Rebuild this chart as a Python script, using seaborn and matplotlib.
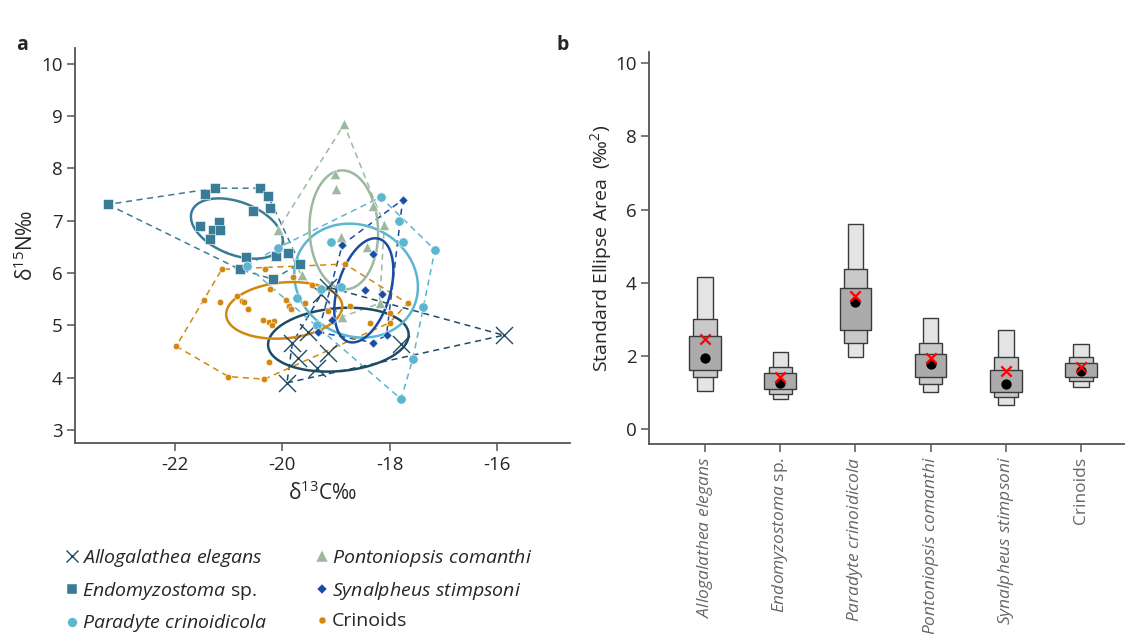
import numpy as np
import pandas as pd
import matplotlib
matplotlib.use("Agg")
import matplotlib.pyplot as plt
import seaborn as sns
from matplotlib.lines import Line2D

# ---------------- data: panel a (isotope values) ----------------
allo_x = [-19.15, -19.27, -19.52, -19.81, -19.71, -19.14, -19.36, -19.91, -17.80, -15.88]
allo_y = [5.73, 5.60, 4.88, 4.66, 4.38, 4.47, 4.18, 3.90, 4.64, 4.81]

endo_x = [-23.24, -21.44, -21.25, -20.41, -20.26, -20.23, -20.54, -21.17, -21.52,
          -21.29, -21.15, -21.34, -20.68, -20.11, -19.90, -19.67, -20.79, -20.17]
endo_y = [7.31, 7.51, 7.62, 7.62, 7.47, 7.24, 7.19, 6.97, 6.89,
          6.83, 6.83, 6.65, 6.31, 6.33, 6.39, 6.18, 6.07, 5.88]

para_x = [-20.08, -20.66, -19.73, -18.17, -17.82, -17.75, -17.16, -19.09, -18.91,
          -19.28, -17.39, -17.57, -17.79, -19.36]
para_y = [6.48, 6.14, 5.52, 7.45, 7.00, 6.59, 6.44, 6.59, 5.74,
          5.69, 5.35, 4.36, 3.59, 5.01]

pont_x = [-18.85, -19.02, -18.99, -18.31, -18.10, -20.08, -18.91, -18.42, -19.64, -18.19, -18.89]
pont_y = [8.84, 7.89, 7.60, 7.28, 6.91, 6.82, 6.68, 6.50, 5.96, 5.42, 5.16]

syn_x = [-17.76, -18.88, -18.32, -18.46, -18.14, -19.08, -18.31, -18.06, -19.33]
syn_y = [7.40, 6.54, 6.36, 5.67, 5.59, 5.10, 4.67, 4.81, 4.87]

crin_x = [-21.12, -20.32, -21.45, -21.15, -20.84, -20.75, -20.63, -20.22, -19.93, -19.88,
          -19.83, -19.57, -20.35, -20.24, -20.16, -20.18, -21.97, -21.00, -20.33, -20.24,
          -19.79, -19.45, -19.15, -18.74, -18.83, -18.36, -18.00, -17.67, -18.00, -20.70]
crin_y = [6.07, 6.07, 5.48, 5.45, 5.56, 5.46, 5.31, 5.69, 5.48, 5.37,
          5.32, 5.42, 5.10, 5.07, 5.09, 5.01, 4.60, 4.02, 3.97, 4.29,
          5.92, 5.77, 5.28, 5.37, 6.17, 5.05, 5.05, 5.42, 5.24, 5.45]

# ---------------- data: panel b (SEA posterior summaries) ----------------
categories = ["Allogalathea elegans", "Endomyzostoma sp.", "Paradyte crinoidicola",
              "Pontoniopsis comanthi", "Synalpheus stimpsoni", "Crinoids"]
cat_labels = [r"$\it{Allogalathea\ elegans}$", r"$\it{Endomyzostoma}$ sp.",
              r"$\it{Paradyte\ crinoidicola}$", r"$\it{Pontoniopsis\ comanthi}$",
              r"$\it{Synalpheus\ stimpsoni}$", "Crinoids"]
ci95_low = [1.05, 0.82, 1.97, 1.01, 0.67, 1.15]
ci95_high = [4.16, 2.12, 5.60, 3.04, 2.72, 2.34]
ci75_low = [1.42, 0.96, 2.37, 1.24, 0.88, 1.32]
ci75_high = [3.02, 1.69, 4.39, 2.36, 1.97, 1.98]
ci50_low = [1.63, 1.09, 2.70, 1.43, 1.02, 1.43]
ci50_high = [2.55, 1.53, 3.87, 2.06, 1.63, 1.82]
sea_mode = [1.95, 1.26, 3.48, 1.78, 1.25, 1.59]
sea_c = [2.47, 1.42, 3.65, 1.96, 1.59, 1.71]

# ---------------- styling ----------------
sns.set_theme(style="ticks")
plt.rcParams["font.family"] = ["Open Sans", "DejaVu Sans"]
plt.rcParams["mathtext.fontset"] = "custom"
plt.rcParams["mathtext.rm"] = "Open Sans"
plt.rcParams["mathtext.it"] = "Open Sans:italic"
plt.rcParams["mathtext.bf"] = "Open Sans:bold"

groups = [
    ("Allogalathea elegans", r"$\it{Allogalathea\ elegans}$", allo_x, allo_y, "#1e4b64", "x", 150, 9),
    ("Endomyzostoma sp.", r"$\it{Endomyzostoma}$ sp.", endo_x, endo_y, "#3a7b98", "s", 45, 7),
    ("Paradyte crinoidicola", r"$\it{Paradyte\ crinoidicola}$", para_x, para_y, "#5cb6cf", "o", 45, 7),
    ("Pontoniopsis comanthi", r"$\it{Pontoniopsis\ comanthi}$", pont_x, pont_y, "#9bb9a1", "^", 55, 8),
    ("Synalpheus stimpsoni", r"$\it{Synalpheus\ stimpsoni}$", syn_x, syn_y, "#1a4ca5", "D", 22, 5),
    ("Crinoids", "Crinoids", crin_x, crin_y, "#d4870f", "o", 22, 5),
]


def convex_hull(x, y):
    pts = sorted(set(zip(x, y)))

    def cross(o, a, b):
        return (a[0] - o[0]) * (b[1] - o[1]) - (a[1] - o[1]) * (b[0] - o[0])

    lower, upper = [], []
    for p in pts:
        while len(lower) >= 2 and cross(lower[-2], lower[-1], p) <= 0:
            lower.pop()
        lower.append(p)
    for p in reversed(pts):
        while len(upper) >= 2 and cross(upper[-2], upper[-1], p) <= 0:
            upper.pop()
        upper.append(p)
    h = lower[:-1] + upper[:-1]
    h.append(h[0])
    return np.array(h)


def sea_ellipse(x, y, npts=300):
    x = np.asarray(x)
    y = np.asarray(y)
    n = len(x)
    S = np.cov(x, y) * (n - 1) / (n - 2)
    vals, vecs = np.linalg.eigh(S)
    t = np.linspace(0, 2 * np.pi, npts)
    circ = np.vstack([np.cos(t), np.sin(t)])
    pts = vecs @ (np.sqrt(vals)[:, None] * circ)
    return x.mean() + pts[0], y.mean() + pts[1]


fig = plt.figure(figsize=(11.37, 6.34), dpi=100)
W, H = 1137, 634
axA = fig.add_axes([75 / W, 1 - 443 / H, 495 / W, 395 / H])
axB = fig.add_axes([649 / W, 1 - 444 / H, 475 / W, 392 / H])

spine_col = "#555555"

# ---------------- panel a ----------------
for name, lab, xs, ys, col, mk, s, ms in groups:
    hx = convex_hull(xs, ys)
    axA.plot(hx[:, 0], hx[:, 1], ls=(0, (4, 3)), lw=1.1, color=col, zorder=2)
for name, lab, xs, ys, col, mk, s, ms in groups:
    ex, ey = sea_ellipse(xs, ys)
    axA.plot(ex, ey, lw=1.8, color=col, zorder=3)
for name, lab, xs, ys, col, mk, s, ms in groups:
    df = pd.DataFrame({"x": xs, "y": ys})
    if mk == "x":
        sns.scatterplot(data=df, x="x", y="y", marker="x", s=s, color=col,
                        linewidth=1.0, ax=axA, zorder=4, legend=False)
    else:
        sns.scatterplot(data=df, x="x", y="y", marker=mk, s=s, color=col,
                        edgecolor="white", linewidth=0.4, ax=axA, zorder=4, legend=False)

axA.set_xlim(-23.85, -14.65)
axA.set_ylim(2.75, 10.3)
axA.set_xticks([-22, -20, -18, -16])
axA.set_xticklabels(["-22", "-20", "-18", "-16"])
axA.set_yticks(range(3, 11))
axA.set_xlabel("δ$^{13}$C‰", fontsize=15, labelpad=6)
axA.set_ylabel("δ$^{15}$N‰", fontsize=15, labelpad=2)

# ---------------- panel b ----------------
pos = np.arange(len(categories))
h95 = np.array(ci95_high) - np.array(ci95_low)
h75 = np.array(ci75_high) - np.array(ci75_low)
h50 = np.array(ci50_high) - np.array(ci50_low)
axB.bar(pos, h95, bottom=ci95_low, width=0.205, color="#e4e4e4", edgecolor="#3a3a3a", linewidth=1.0, zorder=2)
axB.bar(pos, h75, bottom=ci75_low, width=0.31, color="#c9c9c9", edgecolor="#3a3a3a", linewidth=1.0, zorder=3)
axB.bar(pos, h50, bottom=ci50_low, width=0.42, color="#ababab", edgecolor="#3a3a3a", linewidth=1.0, zorder=4)
dfb = pd.DataFrame({"pos": pos, "mode": sea_mode, "seac": sea_c})
sns.scatterplot(data=dfb, x="pos", y="mode", color="black", s=55, edgecolor="black",
                linewidth=0, ax=axB, zorder=5, legend=False)
sns.scatterplot(data=dfb, x="pos", y="seac", color="red", marker="x", s=55,
                linewidth=1.6, ax=axB, zorder=6, legend=False)

axB.set_xlim(-0.745, 5.57)
axB.set_ylim(-0.4, 10.3)
axB.set_yticks([0, 2, 4, 6, 8, 10])
axB.set_xticks(pos)
axB.set_xticklabels(cat_labels, rotation=90, color="#666666", fontsize=12.5)
axB.set_xlabel("")
axB.set_ylabel("Standard Ellipse Area  (‰$^2$)", fontsize=14, labelpad=1)

for ax in (axA, axB):
    sns.despine(ax=ax)
    for sp in ("left", "bottom"):
        ax.spines[sp].set_color(spine_col)
        ax.spines[sp].set_linewidth(1.3)
    ax.tick_params(axis="both", direction="out", length=6, width=1.1, color=spine_col,
                   labelsize=13.5, pad=3)
axB.tick_params(axis="x", labelsize=12.5, labelcolor="#666666")

fig.text(22 / W, 1 - 45 / H, "a", fontsize=14, fontweight="bold", ha="center", va="center")
fig.text(563 / W, 1 - 45 / H, "b", fontsize=14, fontweight="bold", ha="center", va="center")

# ---------------- legend ----------------
handles = []
labels = []
for name, lab, xs, ys, col, mk, s, ms in groups:
    if mk == "x":
        h = Line2D([], [], ls="", marker="x", color=col, markersize=9, mew=1.0)
    else:
        h = Line2D([], [], ls="", marker=mk, color=col, markersize=ms, mec="white", mew=0.3)
    handles.append(h)
    labels.append(lab)
fig.legend(handles, labels, loc="upper left", bbox_to_anchor=(65 / W, 1 - 547 / H),
           ncol=2, frameon=False, fontsize=14, handlelength=0.7, handletextpad=0.15,
           columnspacing=2.5, labelspacing=0.55, borderaxespad=0, borderpad=0)

fig.savefig("out.png", dpi=100, facecolor="white")
